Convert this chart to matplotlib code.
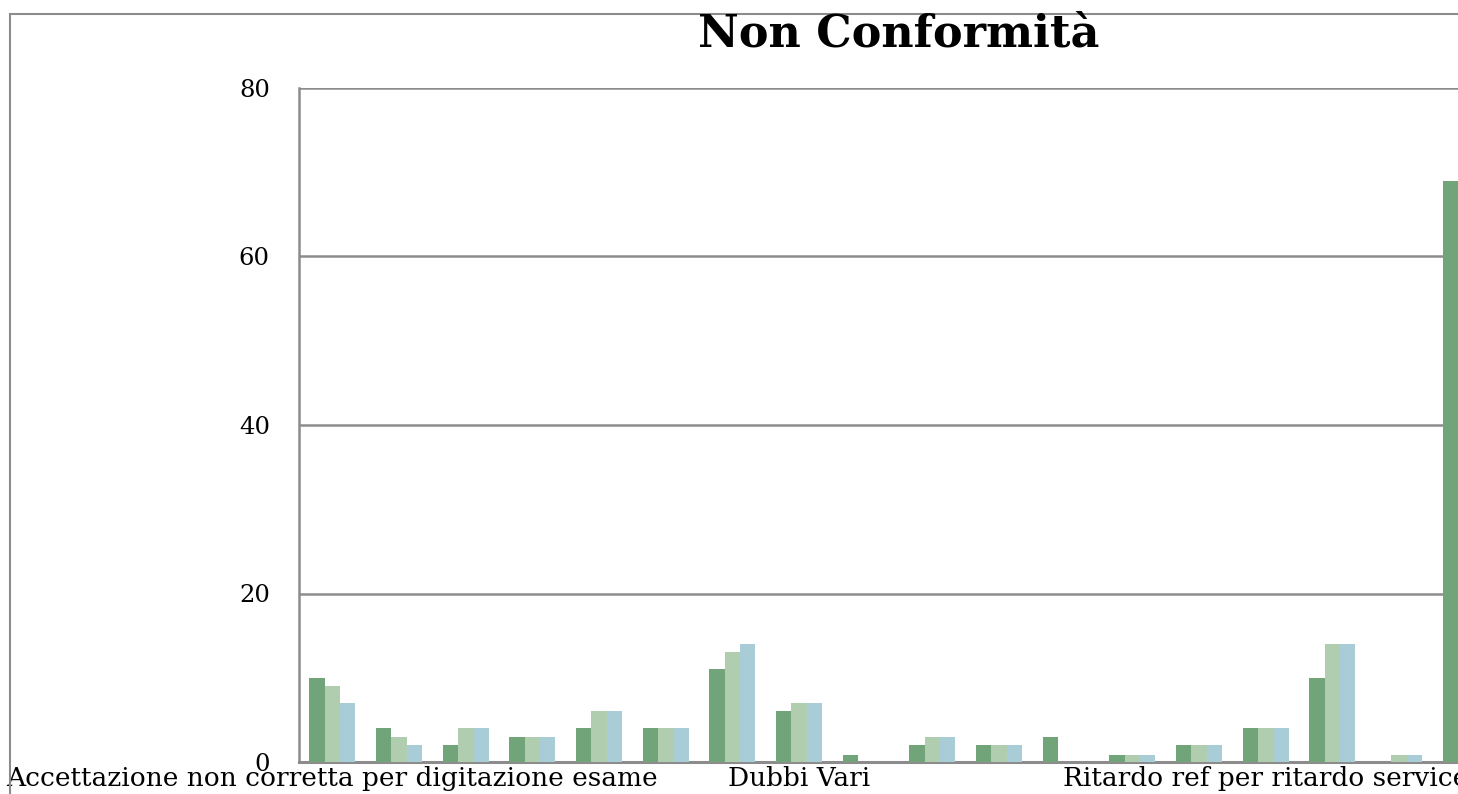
import matplotlib
matplotlib.use("Agg")
import matplotlib.pyplot as plt
from matplotlib.patches import Rectangle
import numpy as np

categories = [
    "Accettazione non corretta per digitazione esame", "", "", "", "", "", "",
    "Dubbi Vari", "", "", "", "", "", "",
    "Ritardo ref per ritardo service", "", "", "",
]
series_a = [10, 4, 2, 3, 4, 4, 11, 6, 0.8, 2, 2, 3, 0.8, 2, 4, 10, 0, 69]
series_b = [9, 3, 4, 3, 6, 4, 13, 7, 0, 3, 2, 0, 0.8, 2, 4, 14, 0.8, 0]
series_c = [7, 2, 4, 3, 6, 4, 14, 7, 0, 3, 2, 0, 0.8, 2, 4, 14, 0.8, 0]
colors = ["#72a47a", "#b0cdb0", "#a8cdd6"]
title = "Non Conformità"
yticks = [0, 20, 40, 60, 80]

fig = plt.figure(figsize=(14.58, 7.94), dpi=100)
W, H = 1458, 794
ax = fig.add_axes([299 / W, (H - 762) / H, 1200 / W, (762 - 88) / H])

x = np.arange(len(categories))
bw = 0.23
for k, (vals, c) in enumerate(zip([series_a, series_b, series_c], colors)):
    ax.bar(x + (k - 1) * bw, vals, width=bw, color=c, edgecolor="none", zorder=3)

ax.set_xlim(-0.5, len(categories) - 0.5)
ax.set_ylim(0, 80)
ax.set_yticks(yticks)
ax.grid(axis="y", color="#8c8c8c", linewidth=1.8, zorder=0)
ax.set_xticks(x)
ax.set_xticklabels(categories, fontfamily="DejaVu Serif", fontsize=19)
ax.tick_params(axis="x", length=0, pad=3)
ax.tick_params(axis="y", length=0, pad=21, labelsize=17.5)
for lab in ax.get_yticklabels():
    lab.set_fontfamily("DejaVu Serif")
for s in ["top", "right"]:
    ax.spines[s].set_visible(False)
ax.spines["left"].set_color("#8c8c8c")
ax.spines["left"].set_linewidth(1.8)
ax.spines["bottom"].set_color("#8c8c8c")
ax.spines["bottom"].set_linewidth(2.2)

fig.text(899 / W, 1 - 34 / H, title, ha="center", va="center",
         fontfamily="DejaVu Serif", fontweight="bold", fontsize=32)

fig.patches.append(Rectangle((10 / W, -0.1), 1.2, (H - 14) / H + 0.1,
                             transform=fig.transFigure, fill=False,
                             edgecolor="#8c8c8c", linewidth=1.5))

fig.savefig("out.png", dpi=100)
